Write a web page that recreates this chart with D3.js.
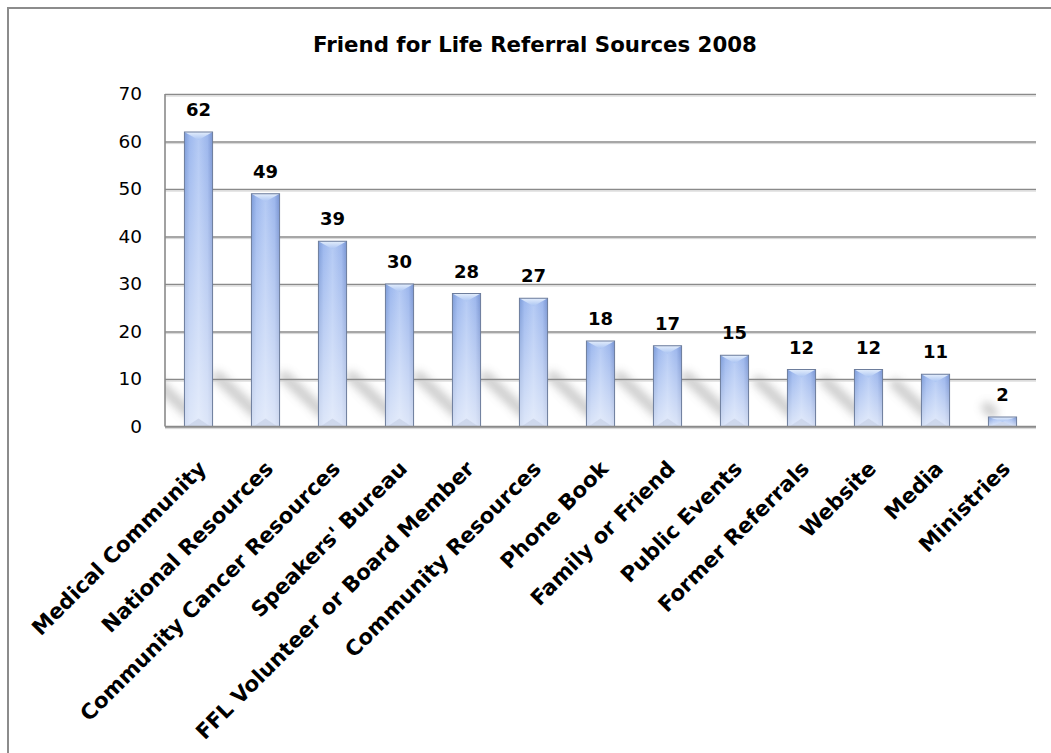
<!DOCTYPE html>
<html>
<head>
<meta charset="utf-8">
<script src="https://cdn.jsdelivr.net/npm/d3@7"></script>
<style>
  body { margin:0; background:#fff; }
  text { font-family:"DejaVu Sans", sans-serif; fill:#000; }
</style>
</head>
<body>
<div id="chart"></div>
<script>
var categories = ["Medical Community","National Resources","Community Cancer Resources","Speakers' Bureau",
    "FFL Volunteer or Board Member","Community Resources","Phone Book","Family or Friend",
    "Public Events","Former Referrals","Website","Media","Ministries"];
var values = [62,49,39,30,28,27,18,17,15,12,12,11,2];
var yTicks = [0,10,20,30,40,50,60,70];
var title = "Friend for Life Referral Sources 2008";

function drawChart(){
    var w = 1051, h = 753;
    var left = 165, right = 1036, top = 94, bottom = 426.5;

    var svg = d3.select("#chart").append("svg")
        .attr("width",w).attr("height",h);

    var defs = svg.append("defs");

    // bar body, darker edges and lighter middle
    var gH = defs.append("linearGradient").attr("id","barH")
        .attr("x1","0").attr("x2","1").attr("y1","0").attr("y2","0");
    gH.append("stop").attr("offset","0%").attr("stop-color","#7c9bd8");
    gH.append("stop").attr("offset","18%").attr("stop-color","#9db8ee");
    gH.append("stop").attr("offset","50%").attr("stop-color","#b3c9f4");
    gH.append("stop").attr("offset","82%").attr("stop-color","#9cb6ec");
    gH.append("stop").attr("offset","100%").attr("stop-color","#7894d2");

    // washes out toward the bottom
    var gV = defs.append("linearGradient").attr("id","barV")
        .attr("x1","0").attr("x2","0").attr("y1","0").attr("y2","1");
    gV.append("stop").attr("offset","0%").attr("stop-color","#fff").attr("stop-opacity",0);
    gV.append("stop").attr("offset","100%").attr("stop-color","#fff").attr("stop-opacity",0.65);

    var gCap = defs.append("linearGradient").attr("id","capG")
        .attr("x1","0").attr("x2","0").attr("y1","0").attr("y2","1");
    gCap.append("stop").attr("offset","0%").attr("stop-color","#e4eefc");
    gCap.append("stop").attr("offset","100%").attr("stop-color","#a9c3f2");

    defs.append("filter").attr("id","blur")
        .attr("filterUnits","userSpaceOnUse")
        .attr("x",0).attr("y",0).attr("width",w).attr("height",h)
        .append("feGaussianBlur").attr("stdDeviation",4.5);

    defs.append("clipPath").attr("id","plotClip")
        .append("rect").attr("x",left).attr("y",top)
        .attr("width",right-left).attr("height",bottom-top);

    // outer chart border (runs off the right and bottom)
    svg.append("rect")
        .attr("x",8).attr("y",8).attr("width",w+20).attr("height",h+20)
        .attr("fill","none").attr("stroke","#8c8c8c").attr("stroke-width",2);

    var xScale = d3.scaleBand()
        .domain(categories)
        .range([left,right])
        .paddingInner(0.58)
        .paddingOuter(0.29);

    var yScale = d3.scaleLinear()
        .domain([0,70])
        .range([bottom,top]);

    var bw = xScale.bandwidth();

    // soft diagonal floor shadows behind the bars
    svg.append("g").attr("clip-path","url(#plotClip)")
        .selectAll("line")
        .data(values)
        .enter()
        .append("line")
        .attr("x1",function(d,i){ return xScale(categories[i]) + 4; })
        .attr("y1",bottom - 14)
        .attr("x2",function(d,i){
            var k = Math.min((bottom - yScale(d))*0.55, 36);
            return xScale(categories[i]) + 4 - k*1.05;
        })
        .attr("y2",function(d){
            var k = Math.min((bottom - yScale(d))*0.55, 36);
            return bottom - 14 - k;
        })
        .attr("stroke","#909090")
        .attr("stroke-width",11)
        .attr("stroke-linecap","round")
        .attr("opacity",0.45)
        .attr("filter","url(#blur)");

    // gridlines
    var yAxis = d3.axisLeft(yScale)
        .tickValues(yTicks)
        .tickSize(-(right-left))
        .tickPadding(23)
        .tickFormat(d3.format("d"));

    var ga = svg.append("g")
        .attr("transform","translate("+left+",0)")
        .call(yAxis);
    ga.select(".domain").remove();
    ga.selectAll(".tick line")
        .attr("stroke","#8a8a8a").attr("stroke-width",1.6);
    ga.selectAll(".tick")
        .append("line")
        .attr("x1",0).attr("x2",right-left)
        .attr("y1",1.6).attr("y2",1.6)
        .attr("stroke","#d6d6d6").attr("stroke-width",1);
    ga.selectAll(".tick text")
        .style("font-size","18.5px")
        .attr("fill","#000");

    // left edge of plot area
    svg.append("line")
        .attr("x1",left).attr("x2",left)
        .attr("y1",top).attr("y2",bottom)
        .attr("stroke","#8a8a8a").attr("stroke-width",1.6);

    // bars
    var bars = svg.selectAll("g.bar")
        .data(values)
        .enter()
        .append("g")
        .attr("class","bar");

    bars.append("rect")
        .attr("x",function(d,i){ return xScale(categories[i]); })
        .attr("y",function(d){ return yScale(d); })
        .attr("width",bw)
        .attr("height",function(d){ return bottom - yScale(d); })
        .attr("fill","url(#barH)");

    bars.append("rect")
        .attr("x",function(d,i){ return xScale(categories[i]); })
        .attr("y",function(d){ return yScale(d); })
        .attr("width",bw)
        .attr("height",function(d){ return bottom - yScale(d); })
        .attr("fill","url(#barV)");

    // bottom bevel
    bars.append("polygon")
        .attr("points",function(d,i){
            var x0 = xScale(categories[i]);
            var bh = bottom - yScale(d);
            var bv = Math.min(8, bh/2);
            return [[x0+2,bottom],[x0+bw-2,bottom],[x0+bw/2,bottom-bv]].join(" ");
        })
        .attr("fill","#c9d3e8").attr("opacity",0.8);

    // top bevel
    bars.append("polygon")
        .attr("points",function(d,i){
            var x0 = xScale(categories[i]);
            var y0 = yScale(d);
            var bh = bottom - y0;
            var bv = Math.min(8, bh/2);
            return [[x0,y0],[x0+bw,y0],[x0+bw/2,y0+bv]].join(" ");
        })
        .attr("fill","url(#capG)");

    bars.append("rect")
        .attr("x",function(d,i){ return xScale(categories[i]); })
        .attr("y",function(d){ return yScale(d); })
        .attr("width",bw)
        .attr("height",function(d){ return bottom - yScale(d); })
        .attr("fill","none")
        .attr("stroke","#6d7d9c").attr("stroke-width",1);

    // value labels
    bars.append("text")
        .attr("x",function(d,i){ return xScale(categories[i]) + bw/2; })
        .attr("y",function(d){ return yScale(d) - 16; })
        .attr("text-anchor","middle")
        .style("font-size","18px")
        .style("font-weight","bold")
        .text(function(d){ return d; });

    // bottom axis line
    svg.append("line")
        .attr("x1",left).attr("x2",right)
        .attr("y1",bottom).attr("y2",bottom)
        .attr("stroke","#8a8a8a").attr("stroke-width",1.6);

    // category labels, rotated
    var labels = svg.selectAll("text.cat")
        .data(categories)
        .enter()
        .append("text")
        .attr("class","cat")
        .attr("text-anchor","end")
        .style("font-weight","bold")
        .style("font-size","16px")
        .attr("transform",function(d){
            return "translate(" + (xScale(d) + bw/2 + 9) + "," + 470 + ") rotate(-45)";
        })
        .text(function(d){ return d; });

    // fit label size to the original's label lengths
    var len = labels.filter(function(d){ return d === "Medical Community"; }).node().getComputedTextLength();
    labels.style("font-size",(16*236/len).toFixed(2)+"px");

    // title
    var t = svg.append("text")
        .attr("x",535).attr("y",52)
        .attr("text-anchor","middle")
        .style("font-weight","bold")
        .style("font-size","19px")
        .text(title);
    var tl = t.node().getComputedTextLength();
    t.style("font-size",(19*444/tl).toFixed(2)+"px");
}

window.onload = drawChart;
</script>
</body>
</html>
